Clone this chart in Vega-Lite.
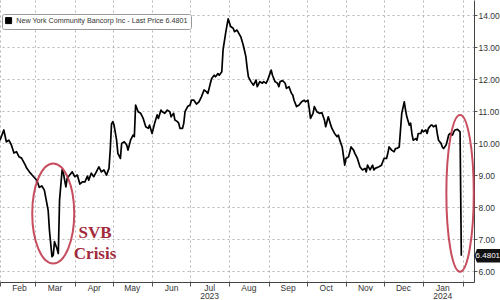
{
  "$schema": "https://vega.github.io/schema/vega-lite/v6.json",
  "width": 474,
  "height": 282,
  "autosize": "none",
  "padding": {"left": 0, "top": 0, "right": 26, "bottom": 18},
  "background": "white",
  "config": {
    "view": {"stroke": null},
    "font": "Liberation Sans",
    "axis": {
      "gridColor": "#b5b5b5",
      "gridDash": [2, 3],
      "gridWidth": 1,
      "domainColor": "#444",
      "tickColor": "#555",
      "labelColor": "#333",
      "labelFont": "Liberation Sans",
      "labelFontSize": 8.5,
      "title": null
    },
    "legend": {
      "labelFont": "Liberation Sans",
      "labelFontSize": 7.2,
      "labelColor": "#333",
      "labelLimit": 0
    }
  },
  "datasets": {
    "price": [
      {"date": "2023-02-01", "price": 10.09}, {"date": "2023-02-04", "price": 10.41}, {"date": "2023-02-06", "price": 10.04},
      {"date": "2023-02-08", "price": 10.09}, {"date": "2023-02-10", "price": 9.94}, {"date": "2023-02-12", "price": 9.69},
      {"date": "2023-02-14", "price": 9.73}, {"date": "2023-02-16", "price": 9.57}, {"date": "2023-02-18", "price": 9.53},
      {"date": "2023-02-21", "price": 9.31}, {"date": "2023-02-22", "price": 9.22}, {"date": "2023-02-25", "price": 9.06},
      {"date": "2023-02-27", "price": 8.97}, {"date": "2023-03-02", "price": 8.84}, {"date": "2023-03-04", "price": 8.62},
      {"date": "2023-03-06", "price": 8.66}, {"date": "2023-03-08", "price": 8.53}, {"date": "2023-03-09", "price": 8.32},
      {"date": "2023-03-11", "price": 7.90}, {"date": "2023-03-12", "price": 7.28}, {"date": "2023-03-14", "price": 6.45},
      {"date": "2023-03-15", "price": 6.50}, {"date": "2023-03-16", "price": 6.92}, {"date": "2023-03-18", "price": 6.70},
      {"date": "2023-03-19", "price": 6.55}, {"date": "2023-03-20", "price": 8.22}, {"date": "2023-03-22", "price": 9.16},
      {"date": "2023-03-23", "price": 9.06}, {"date": "2023-03-24", "price": 8.84}, {"date": "2023-03-25", "price": 8.63},
      {"date": "2023-03-26", "price": 8.90}, {"date": "2023-03-28", "price": 9.00}, {"date": "2023-03-30", "price": 9.10},
      {"date": "2023-04-01", "price": 8.95}, {"date": "2023-04-03", "price": 9.00}, {"date": "2023-04-05", "price": 8.72},
      {"date": "2023-04-07", "price": 8.79}, {"date": "2023-04-09", "price": 8.79}, {"date": "2023-04-11", "price": 8.97},
      {"date": "2023-04-12", "price": 8.84}, {"date": "2023-04-14", "price": 9.06}, {"date": "2023-04-16", "price": 8.95},
      {"date": "2023-04-18", "price": 9.10}, {"date": "2023-04-20", "price": 9.26}, {"date": "2023-04-22", "price": 9.10},
      {"date": "2023-04-24", "price": 9.16}, {"date": "2023-04-26", "price": 9.00}, {"date": "2023-04-28", "price": 9.21},
      {"date": "2023-04-29", "price": 9.80}, {"date": "2023-04-30", "price": 10.60}, {"date": "2023-05-01", "price": 10.67},
      {"date": "2023-05-02", "price": 10.56}, {"date": "2023-05-04", "price": 10.09}, {"date": "2023-05-05", "price": 9.68},
      {"date": "2023-05-07", "price": 9.52}, {"date": "2023-05-08", "price": 9.99}, {"date": "2023-05-10", "price": 10.04},
      {"date": "2023-05-12", "price": 9.94}, {"date": "2023-05-13", "price": 9.78}, {"date": "2023-05-15", "price": 10.09},
      {"date": "2023-05-17", "price": 10.25}, {"date": "2023-05-18", "price": 10.20}, {"date": "2023-05-19", "price": 11.19},
      {"date": "2023-05-21", "price": 10.98}, {"date": "2023-05-23", "price": 10.93}, {"date": "2023-05-25", "price": 10.77},
      {"date": "2023-05-27", "price": 10.51}, {"date": "2023-05-29", "price": 10.46}, {"date": "2023-05-30", "price": 10.56},
      {"date": "2023-06-01", "price": 10.30}, {"date": "2023-06-03", "price": 10.62}, {"date": "2023-06-05", "price": 10.88},
      {"date": "2023-06-06", "price": 10.77}, {"date": "2023-06-08", "price": 11.03}, {"date": "2023-06-09", "price": 10.98},
      {"date": "2023-06-11", "price": 10.93}, {"date": "2023-06-13", "price": 11.03}, {"date": "2023-06-15", "price": 10.98},
      {"date": "2023-06-16", "price": 10.82}, {"date": "2023-06-18", "price": 10.93}, {"date": "2023-06-19", "price": 10.72},
      {"date": "2023-06-21", "price": 10.67}, {"date": "2023-06-22", "price": 10.62}, {"date": "2023-06-23", "price": 10.46},
      {"date": "2023-06-25", "price": 10.46}, {"date": "2023-06-26", "price": 10.62}, {"date": "2023-06-27", "price": 10.98},
      {"date": "2023-06-29", "price": 11.14}, {"date": "2023-07-01", "price": 11.19}, {"date": "2023-07-02", "price": 11.34},
      {"date": "2023-07-04", "price": 11.34}, {"date": "2023-07-06", "price": 11.22}, {"date": "2023-07-08", "price": 11.29},
      {"date": "2023-07-10", "price": 11.45}, {"date": "2023-07-12", "price": 11.66}, {"date": "2023-07-14", "price": 11.60},
      {"date": "2023-07-15", "price": 11.55}, {"date": "2023-07-17", "price": 11.87}, {"date": "2023-07-18", "price": 12.02},
      {"date": "2023-07-20", "price": 12.12}, {"date": "2023-07-21", "price": 12.07}, {"date": "2023-07-23", "price": 12.17},
      {"date": "2023-07-24", "price": 12.12}, {"date": "2023-07-26", "price": 12.23}, {"date": "2023-07-27", "price": 12.91},
      {"date": "2023-07-29", "price": 13.43}, {"date": "2023-07-31", "price": 13.88}, {"date": "2023-08-02", "price": 13.64},
      {"date": "2023-08-04", "price": 13.59}, {"date": "2023-08-05", "price": 13.48}, {"date": "2023-08-07", "price": 13.53},
      {"date": "2023-08-10", "price": 13.32}, {"date": "2023-08-12", "price": 13.05}, {"date": "2023-08-14", "price": 12.70},
      {"date": "2023-08-15", "price": 12.35}, {"date": "2023-08-16", "price": 12.07}, {"date": "2023-08-18", "price": 11.92},
      {"date": "2023-08-20", "price": 11.81}, {"date": "2023-08-22", "price": 11.97}, {"date": "2023-08-23", "price": 11.76},
      {"date": "2023-08-25", "price": 11.92}, {"date": "2023-08-27", "price": 11.87}, {"date": "2023-08-28", "price": 11.92},
      {"date": "2023-08-30", "price": 11.87}, {"date": "2023-08-31", "price": 11.95}, {"date": "2023-09-02", "price": 12.17},
      {"date": "2023-09-03", "price": 12.28}, {"date": "2023-09-04", "price": 12.12}, {"date": "2023-09-06", "price": 11.92},
      {"date": "2023-09-08", "price": 11.87}, {"date": "2023-09-09", "price": 11.76}, {"date": "2023-09-10", "price": 11.92},
      {"date": "2023-09-12", "price": 11.95}, {"date": "2023-09-14", "price": 11.87}, {"date": "2023-09-15", "price": 11.71},
      {"date": "2023-09-17", "price": 11.76}, {"date": "2023-09-19", "price": 11.55}, {"date": "2023-09-20", "price": 11.50},
      {"date": "2023-09-21", "price": 11.34}, {"date": "2023-09-23", "price": 11.14}, {"date": "2023-09-25", "price": 11.19},
      {"date": "2023-09-27", "price": 11.29}, {"date": "2023-09-29", "price": 11.34}, {"date": "2023-09-30", "price": 11.29},
      {"date": "2023-10-02", "price": 11.34}, {"date": "2023-10-03", "price": 11.08}, {"date": "2023-10-04", "price": 10.77},
      {"date": "2023-10-06", "price": 10.93}, {"date": "2023-10-07", "price": 11.14}, {"date": "2023-10-09", "price": 10.98},
      {"date": "2023-10-11", "price": 10.93}, {"date": "2023-10-13", "price": 10.95}, {"date": "2023-10-15", "price": 10.72},
      {"date": "2023-10-16", "price": 10.51}, {"date": "2023-10-18", "price": 10.82}, {"date": "2023-10-20", "price": 10.56},
      {"date": "2023-10-21", "price": 10.45}, {"date": "2023-10-23", "price": 10.30}, {"date": "2023-10-25", "price": 10.20},
      {"date": "2023-10-26", "price": 10.25}, {"date": "2023-10-27", "price": 10.10}, {"date": "2023-10-29", "price": 9.88},
      {"date": "2023-10-31", "price": 9.31}, {"date": "2023-11-01", "price": 9.52}, {"date": "2023-11-03", "price": 9.57},
      {"date": "2023-11-05", "price": 9.88}, {"date": "2023-11-07", "price": 9.78}, {"date": "2023-11-08", "price": 9.68},
      {"date": "2023-11-10", "price": 9.52}, {"date": "2023-11-12", "price": 9.26}, {"date": "2023-11-14", "price": 9.16},
      {"date": "2023-11-16", "price": 9.21}, {"date": "2023-11-17", "price": 9.10}, {"date": "2023-11-18", "price": 9.31},
      {"date": "2023-11-20", "price": 9.16}, {"date": "2023-11-22", "price": 9.31}, {"date": "2023-11-23", "price": 9.16},
      {"date": "2023-11-24", "price": 9.21}, {"date": "2023-11-27", "price": 9.26}, {"date": "2023-11-29", "price": 9.31},
      {"date": "2023-12-01", "price": 9.52}, {"date": "2023-12-03", "price": 9.52}, {"date": "2023-12-04", "price": 9.68},
      {"date": "2023-12-05", "price": 9.88}, {"date": "2023-12-07", "price": 9.78}, {"date": "2023-12-09", "price": 9.73},
      {"date": "2023-12-10", "price": 9.83}, {"date": "2023-12-11", "price": 9.83}, {"date": "2023-12-13", "price": 9.88},
      {"date": "2023-12-14", "price": 10.41}, {"date": "2023-12-15", "price": 10.93}, {"date": "2023-12-17", "price": 11.29},
      {"date": "2023-12-18", "price": 11.03}, {"date": "2023-12-19", "price": 10.82}, {"date": "2023-12-21", "price": 10.56},
      {"date": "2023-12-22", "price": 10.62}, {"date": "2023-12-23", "price": 10.30}, {"date": "2023-12-24", "price": 10.09},
      {"date": "2023-12-26", "price": 10.14}, {"date": "2023-12-27", "price": 10.09}, {"date": "2023-12-28", "price": 10.30},
      {"date": "2023-12-30", "price": 10.30}, {"date": "2023-12-31", "price": 10.41}, {"date": "2024-01-01", "price": 10.35},
      {"date": "2024-01-03", "price": 10.41}, {"date": "2024-01-04", "price": 10.30}, {"date": "2024-01-05", "price": 10.46},
      {"date": "2024-01-07", "price": 10.56}, {"date": "2024-01-08", "price": 10.56}, {"date": "2024-01-09", "price": 10.51},
      {"date": "2024-01-11", "price": 10.56}, {"date": "2024-01-12", "price": 10.30}, {"date": "2024-01-13", "price": 10.09},
      {"date": "2024-01-15", "price": 9.99}, {"date": "2024-01-16", "price": 9.88}, {"date": "2024-01-17", "price": 9.83},
      {"date": "2024-01-19", "price": 9.94}, {"date": "2024-01-20", "price": 10.09}, {"date": "2024-01-21", "price": 10.25},
      {"date": "2024-01-22", "price": 10.30}, {"date": "2024-01-24", "price": 10.25}, {"date": "2024-01-25", "price": 10.35},
      {"date": "2024-01-26", "price": 10.41}, {"date": "2024-01-28", "price": 10.43}, {"date": "2024-01-29", "price": 10.39},
      {"date": "2024-01-30", "price": 10.35}, {"date": "2024-01-31", "price": 6.4801}
    ],
    "rings": [
      {"name": "svb", "date": "2023-03-15", "price": 7.80},
      {"name": "now", "date": "2024-01-30", "price": 8.43}
    ],
    "notes": [
      {"date": "2023-04-17", "price": 7.03, "text": "SVB"},
      {"date": "2023-04-17", "price": 6.375, "text": "Crisis"}
    ],
    "last": [
      {"date": "2024-01-31", "price": 6.4801, "text": "6.4801"}
    ]
  },
  "encoding": {
    "x": {
      "field": "date",
      "type": "temporal",
      "scale": {"domain": [{"year": 2023, "month": 2, "date": 1}, {"year": 2024, "month": 2, "date": 10}]},
      "axis": {
        "orient": "bottom",
        "tickCount": {"interval": "month", "step": 1},
        "format": "%b",
        "labelOffset": 19,
        "labelAlign": "center",
        "labelBaseline": "top",
        "labelPadding": -3,
        "labelLineHeight": 8.5,
        "tickSize": 4,
        "labelExpr": "month(datum.value) == 6 ? ['Jul', '2023'] : (month(datum.value) == 0 ? ['Jan', '2024'] : (year(datum.value) == 2024 && month(datum.value) == 1 ? '' : datum.label))",
        "grid": true,
        "domain": true
      }
    },
    "y": {
      "field": "price",
      "type": "quantitative",
      "scale": {"domain": [5.66, 14.47], "nice": false, "zero": false},
      "axis": {
        "orient": "right",
        "values": [6, 7, 8, 9, 10, 11, 12, 13, 14],
        "format": ".2f",
        "tickSize": 3,
        "labelPadding": 1,
        "grid": true,
        "domain": true
      }
    }
  },
  "layer": [
    {
      "data": {"name": "price"},
      "mark": {"type": "line", "strokeWidth": 1.7, "strokeJoin": "round"},
      "encoding": {
        "color": {
          "datum": "New York Community Bancorp Inc - Last Price 6.4801",
          "scale": {"range": ["#000000"]},
          "legend": {
            "title": null,
            "orient": "none",
            "legendX": 2,
            "legendY": 14,
            "symbolType": "square",
            "symbolSize": 36,
            "symbolFillColor": "#000000",
            "symbolStrokeColor": "#000000",
            "symbolStrokeWidth": 1,
            "strokeColor": "#999999",
            "fillColor": "#ffffff",
            "padding": 3,
            "cornerRadius": 2,
            "labelOffset": 4
          }
        }
      }
    },
    {
      "data": {"name": "rings"},
      "transform": [{"filter": "datum.name == 'svb'"}],
      "mark": {
        "type": "point",
        "shape": "M-0.42,0A0.42,1 0 1,0 0.42,0A0.42,1 0 1,0 -0.42,0Z",
        "size": 10000,
        "filled": false,
        "stroke": "#c23b4e",
        "strokeWidth": 2,
        "opacity": 0.9
      }
    },
    {
      "data": {"name": "rings"},
      "transform": [{"filter": "datum.name == 'now'"}],
      "mark": {
        "type": "point",
        "shape": "M-0.175,0A0.175,1 0 1,0 0.175,0A0.175,1 0 1,0 -0.175,0Z",
        "size": 24550,
        "filled": false,
        "stroke": "#c23b4e",
        "strokeWidth": 2,
        "opacity": 0.9
      }
    },
    {
      "data": {"name": "notes"},
      "mark": {
        "type": "text",
        "font": "Liberation Serif",
        "fontWeight": "bold",
        "fontSize": 17,
        "color": "#a22a3d",
        "align": "center",
        "baseline": "alphabetic"
      },
      "encoding": {"text": {"field": "text"}}
    },
    {
      "data": {"name": "last"},
      "mark": {
        "type": "point",
        "shape": "M-1,0L-0.8,-0.52L1,-0.52L1,0.52L-0.8,0.52Z",
        "size": 676,
        "filled": true,
        "color": "#111111",
        "opacity": 1,
        "xOffset": 26
      }
    },
    {
      "data": {"name": "last"},
      "mark": {
        "type": "text",
        "color": "#ffffff",
        "fontSize": 8,
        "align": "center",
        "baseline": "middle",
        "xOffset": 26.5
      },
      "encoding": {"text": {"field": "text"}}
    }
  ]
}
